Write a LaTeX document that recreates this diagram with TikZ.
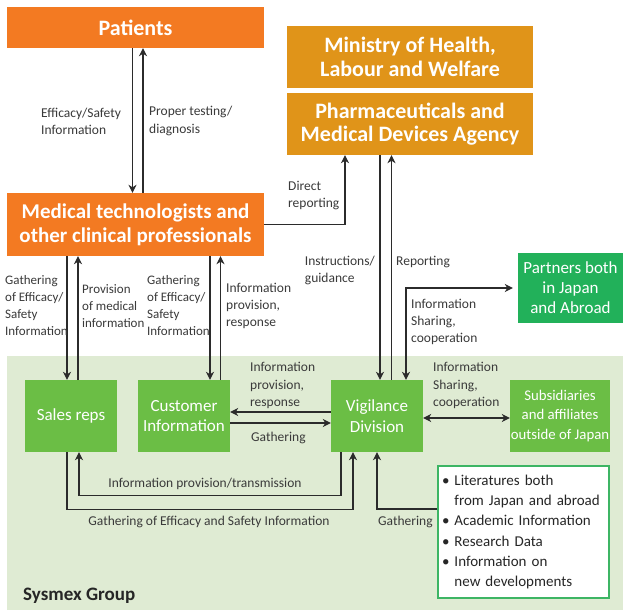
\documentclass[tikz,border=0pt]{standalone}
\usepackage{fontspec}
\setmainfont{Carlito}
\usetikzlibrary{arrows.meta,calc}
\definecolor{orng}{HTML}{F37A22}
\definecolor{gold}{HTML}{E09419}
\definecolor{grn}{HTML}{6BBE45}
\definecolor{pgrn}{HTML}{22B15A}
\definecolor{bgg}{HTML}{DFEBD3}
\definecolor{litb}{HTML}{3DB564}
\definecolor{lncol}{HTML}{2B2B2B}
\definecolor{txt}{HTML}{3A3A3A}
\begin{document}
\begin{tikzpicture}[x=1pt,y=-1pt,
 box/.style={rectangle, inner sep=0pt, align=center, text=white},
 titlebox/.style={box, font=\fontsize{22}{23.5}\selectfont\bfseries},
 gbox/.style={box, fill=grn, font=\fontsize{17}{20.5}\selectfont, minimum width=92pt, minimum height=72pt},
 lbl/.style={inner sep=0pt, align=left, text=txt, font=\fontsize{13.5}{17.2}\selectfont, anchor=west},
 slbl/.style={lbl, font=\fontsize{13}{17.2}\selectfont},
 tip/.tip={Stealth[length=8pt,width=8pt,inset=2.5pt]},
 arr/.style={draw=lncol, line width=1.1pt, -tip},
 arrb/.style={draw=lncol, line width=1.1pt, tip-tip}
]
\fill[white] (0,0) rectangle (623,610);
\useasboundingbox (0,0) rectangle (623,610);
\node[fill=bgg, minimum width=616pt, minimum height=254pt, anchor=north west, inner sep=0pt] (grp) at (7,356) {};
\node[anchor=west, font=\fontsize{19}{22}\selectfont\bfseries, text=black!85, inner sep=0pt] (grplbl) at (23,596) {Sysmex Group};

\node[titlebox, fill=orng, minimum width=257pt, minimum height=41pt] (pat) at (135.5,27.5) {Patients};
\node[titlebox, fill=orng, minimum width=257pt, minimum height=63pt, font=\fontsize{21}{24}\selectfont\bfseries] (med) at (135.5,224.5) {Medical technologists and\\other clinical professionals};
\node[titlebox, fill=gold, minimum width=246pt, minimum height=62pt] (mhlw) at (410,57) {Ministry of Health,\\Labour and Welfare};
\node[titlebox, fill=gold, minimum width=246pt, minimum height=62pt] (pmda) at (410,124) {Pharmaceuticals and\\Medical Devices Agency};
\node[box, fill=pgrn, font=\fontsize{17}{20}\selectfont, minimum width=105pt, minimum height=70pt] (part) at (570.5,288) {Partners both\\in Japan\\and Abroad};

\node[gbox] (sales) at (71,416) {Sales reps};
\node[gbox] (cust) at (184,416) {Customer\\Information};
\node[gbox] (vig) at (377,416) {Vigilance\\Division};
\node[gbox, minimum width=100pt, font=\fontsize{14.8}{19.5}\selectfont] (subs) at (560,416) {Subsidiaries\\and affiliates\\outside of Japan};
\node[draw=litb, line width=1.2pt, fill=white, text width=163pt, inner xsep=4pt, inner ysep=0pt, minimum height=132pt, align=left, text=black!85, font=\fontsize{15}{20.2}\selectfont] (lit) at (523.5,532) {• Literatures both\\\hphantom{• }from Japan and abroad\\• Academic Information\\• Research Data\\• Information on\\\hphantom{• }new developments};

% Patients <-> Medical
\coordinate (p1) at ($(pat.south)+(-3,0)$);
\coordinate (p2) at ($(pat.south)+(7.5,0)$);
\draw[arr] (p1) -- (p1 |- med.north);
\draw[arr] (p2 |- med.north) -- (p2);
\node[lbl] (l1) at (41,121) {Efficacy/Safety\\Information};
\node[lbl] (l2) at (149,121) {Proper testing/\\diagnosis};

% Direct reporting
\draw[arr] (med.east) -| ($(pmda.south)+(-65,0)$);
\node[lbl] (l3) at (288,195.5) {Direct\\reporting};

% PMDA <-> Vigilance
\coordinate (v1) at ($(vig.north)+(3,0)$);
\coordinate (v2) at ($(vig.north)+(14.5,0)$);
\coordinate (v3) at ($(vig.north)+(29,0)$);
\draw[arr] (v1 |- pmda.south) -- (v1);
\draw[arr] (v2) -- (v2 |- pmda.south);
\node[lbl, anchor=east] (l4) at (375,270.5) {Instructions/\\guidance};
\node[lbl] (l5) at (396,262) {Reporting};
\draw[arrb, shorten >=5pt] (v3) |- (part.west);
\node[lbl] (l6) at (411,322) {Information\\Sharing,\\cooperation};

% Medical <-> Sales reps
\coordinate (s1) at ($(sales.north)+(-4,0)$);
\coordinate (s2) at ($(sales.north)+(7,0)$);
\draw[arr] (s1 |- med.south) -- (s1);
\draw[arr] (s2) -- (s2 |- med.south);
\node[slbl] (l7) at (5,305.5) {Gathering\\of Efficacy/\\Safety\\Information};
\node[slbl] (l8) at (82,306) {Provision\\of medical\\information};

% Medical <-> Customer
\coordinate (c1) at ($(cust.north)+(26,0)$);
\coordinate (c2) at ($(cust.north)+(36.5,0)$);
\draw[arr] (c1 |- med.south) -- (c1);
\draw[arr] (c2) -- (c2 |- med.south);
\node[slbl] (l9) at (147,305.5) {Gathering\\of Efficacy/\\Safety\\Information};
\node[lbl] (l10) at (226,306) {Information\\provision,\\response};

% Customer <-> Vigilance
\draw[arr] ($(vig.west)+(0,-4)$) -- ($(cust.east)+(0,-4)$);
\draw[arr] ($(cust.east)+(0,7)$) -- ($(vig.west)+(0,7)$);
\node[lbl] (l11) at (250,385.5) {Information\\provision,\\response};
\node[lbl] (l12) at (251,438) {Gathering};

% Vigilance <-> Subsidiaries
\draw[arrb] ($(vig.east)+(0,2)$) -- ($(subs.west)+(0,2)$);
\node[lbl] (l13) at (433,385.5) {Information\\Sharing,\\cooperation};

% Bottom loops
\coordinate (b1) at ($(vig.south)+(-36,0)$);
\coordinate (b2) at ($(sales.south)+(8,0)$);
\draw[arr] (b1) -- ++(0,43) -| (b2);
\node[lbl, anchor=center] (l14) at (205,484) {Information provision/transmission};
\coordinate (b3) at ($(sales.south)+(-4,0)$);
\coordinate (b4) at ($(vig.south)+(-24,0)$);
\draw[arr] (b3) -- ++(0,57) -| (b4);
\node[lbl, anchor=center] (l15) at (209,522) {Gathering of Efficacy and Safety Information};
\draw[arr] ($(lit.west)+(0,-23)$) -| (vig.south);
\node[lbl] (l16) at (378,522) {Gathering};
\end{tikzpicture}
\end{document}
